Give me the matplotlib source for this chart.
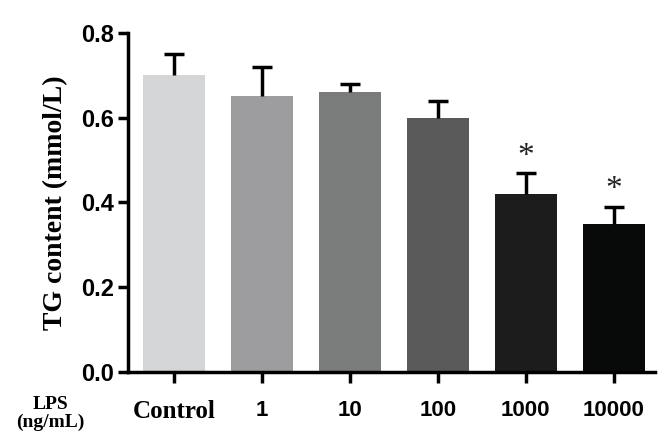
import matplotlib
matplotlib.use("Agg")
import matplotlib.pyplot as plt

groups = ["Control", "1", "10", "100", "1000", "10000"]
tg_mean = [0.70, 0.65, 0.66, 0.60, 0.42, 0.35]
tg_sd = [0.05, 0.07, 0.02, 0.04, 0.05, 0.04]
significant = [False, False, False, False, True, True]
bar_colors = ["#d4d5d6", "#9d9d9f", "#7a7b7b", "#5a5a5a", "#1c1c1c", "#080a0a"]

fig = plt.figure(figsize=(6.7, 4.44), dpi=100)
ax = fig.add_axes([0.191, 0.162, 0.787, 0.764])

x = list(range(len(groups)))
ax.bar(x, tg_mean, width=0.7, color=bar_colors, zorder=2)
# upper error bars only
tops = [m + s for m, s in zip(tg_mean, tg_sd)]
ax.vlines(x, tg_mean, tops, color="black", linewidth=2.5, zorder=3)
ax.plot(x, tops, linestyle="none", marker="_", markersize=15,
        markeredgewidth=2.5, color="black", zorder=3)

# asterisks over the significant groups
for xi, t, sig in zip(x, tops, significant):
    if sig:
        ax.text(xi, t + 0.003, "*", ha="center", va="bottom",
                fontsize=24, family="Liberation Serif", color="#222222")

ax.set_xlim(-0.52, 5.47)
ax.set_ylim(0, 0.8)
ax.set_yticks([0.0, 0.2, 0.4, 0.6, 0.8])
ax.set_yticklabels(["0.0", "0.2", "0.4", "0.6", "0.8"],
                   fontsize=17, fontweight="bold", family="Liberation Sans")
ax.set_xticks(x)
ax.set_xticklabels(groups, fontsize=16, fontweight="bold", family="Liberation Sans")
ax.get_xticklabels()[0].set_family("Liberation Serif")
ax.get_xticklabels()[0].set_fontsize(18)

ax.tick_params(axis="x", length=8, width=2.5, pad=12)
ax.tick_params(axis="y", length=7, width=2.5, pad=3)
for side in ["top", "right"]:
    ax.spines[side].set_visible(False)
for side in ["left", "bottom"]:
    ax.spines[side].set_linewidth(2.5)

ax.set_ylabel("TG content (mmol/L)", fontsize=20, fontweight="bold",
              family="Liberation Serif", labelpad=9)

fig.text(0.075, 0.09, "LPS", ha="center", va="center", fontsize=14,
         fontweight="bold", family="Liberation Serif")
fig.text(0.075, 0.048, "(ng/mL)", ha="center", va="center", fontsize=14,
         fontweight="bold", family="Liberation Serif")

fig.savefig("out.png", dpi=100)
